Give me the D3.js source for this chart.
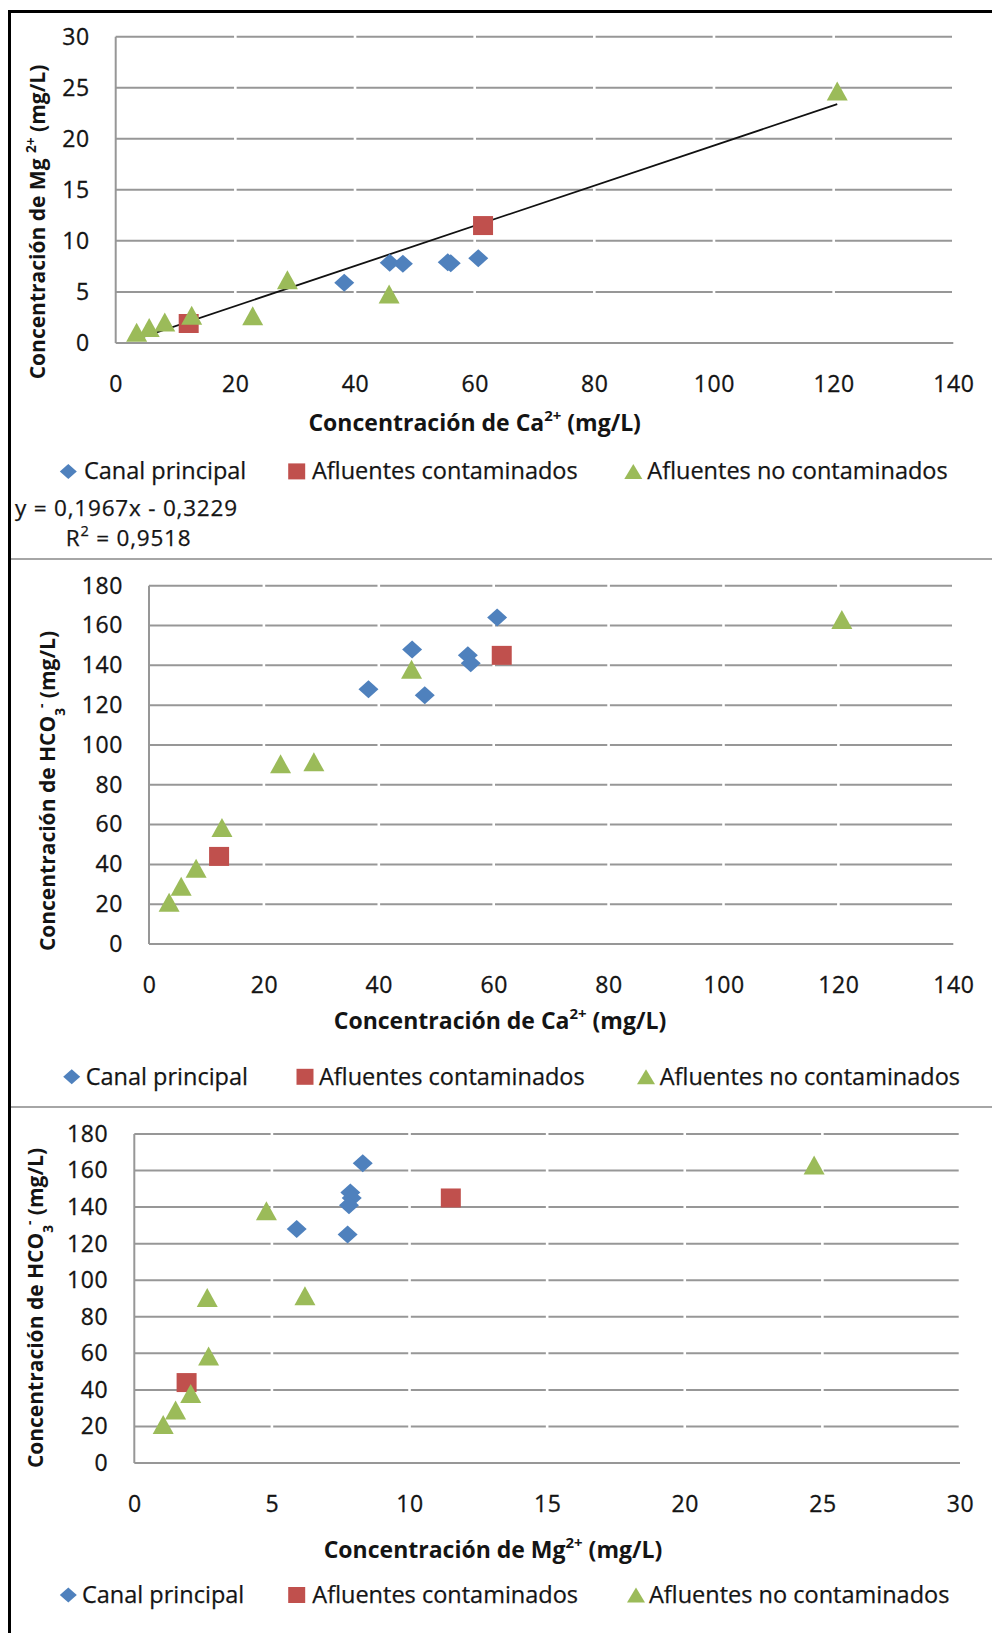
<!DOCTYPE html>
<html>
<head>
<meta charset="utf-8">
<script src="https://cdn.jsdelivr.net/npm/d3@7"></script>
<style>
	body { margin: 0; background: #fff; }
	svg { display: block; }
	text { font-family: "Open Sans", "DejaVu Sans", sans-serif; fill: #141414; }
	.tick-label { font-size: 23px; letter-spacing: 0.6px; stroke: #141414; stroke-width: 0.3px; }
	.axis-title { font-weight: bold; }
	.legend-label { font-size: 23.5px; stroke: #141414; stroke-width: 0.25px; }
	.equation { font-size: 22.5px; letter-spacing: 0.8px; stroke: #141414; stroke-width: 0.25px; }
</style>
</head>
<body>
<script>
// series names (legend order)
var seriesNames = ["Canal principal", "Afluentes contaminados", "Afluentes no contaminados"];

// Canal principal
var canalCa   = [38.2, 45.8, 48.0, 55.5, 56.0, 60.6];
var canalMg   = [5.9, 7.85, 7.75, 7.9, 7.8, 8.3];
var canalHCO3 = [128, 148, 125, 145, 141, 164];

// Afluentes contaminados
var contCa   = [12.2, 61.4];
var contMg   = [1.9, 11.5];
var contHCO3 = [44, 145];

// Afluentes no contaminados
var noContCa   = [3.5, 5.6, 8.2, 12.7, 22.9, 28.7, 45.7, 120.6];
var noContMg   = [1.05, 1.5, 2.05, 2.7, 2.65, 6.2, 4.8, 24.7];
var noContHCO3 = [21, 29, 38, 58.5, 90.5, 91.5, 138, 163];

// linear trend of Mg vs Ca (first chart)
var trendSlope = 0.1967;
var trendIntercept = -0.3229;
var trendR2 = 0.9518;

// axis ticks
var caTicks   = [0, 20, 40, 60, 80, 100, 120, 140];
var mgTicks   = [0, 5, 10, 15, 20, 25, 30];
var hco3Ticks = [0, 20, 40, 60, 80, 100, 120, 140, 160, 180];

var COLORS = ["#4F81BD", "#C0504D", "#9BBB59"];
var SHAPES = ["diamond", "square", "triangle"];

var svg = d3.select("body").append("svg")
	.attr("width", 992)
	.attr("height", 1633);

// outer frame: thick black top + left edge, grey separators between charts
svg.append("rect").attr("x", 8).attr("y", 10).attr("width", 984).attr("height", 3).attr("fill", "#000");
svg.append("rect").attr("x", 8).attr("y", 10).attr("width", 3).attr("height", 1623).attr("fill", "#000");
[558, 1106].forEach(function(y){
	svg.append("rect").attr("x", 11).attr("y", y).attr("width", 981).attr("height", 2).attr("fill", "#a6a6a6");
});

function markerPath(shape, w, h){
	var a = w/2, b = h/2;
	if (shape == "diamond") return "M0," + (-b) + "L" + a + ",0L0," + b + "L" + (-a) + ",0Z";
	if (shape == "square") return "M" + (-a) + "," + (-b) + "h" + w + "v" + h + "h" + (-w) + "Z";
	return "M0," + (-b) + "L" + a + "," + b + "L" + (-a) + "," + b + "Z";
}
var MARK_SIZE = {diamond: [20, 18], square: [20, 19], triangle: [21, 19]};
var LEG_SIZE  = {diamond: [17, 15], square: [17, 16], triangle: [18, 15]};

function zip(xs, ys){
	return xs.map(function(x, i){ return {x: x, y: ys[i]}; });
}

// text parts: [string, "sup"|"sub"|undefined]
function addPart(textSel, p){
	var t = textSel.append("tspan").text(p[0]);
	if (p[1] == "sup") t.attr("baseline-shift", "super").style("font-size", "65%");
	if (p[1] == "sub") t.attr("baseline-shift", "sub").style("font-size", "65%");
}

function drawChart(cfg){
	var g = svg.append("g");
	var x = d3.scaleLinear().domain([cfg.xTicks[0], cfg.xTicks[cfg.xTicks.length-1]]).range([cfg.left, cfg.right]);
	var y = d3.scaleLinear().domain([cfg.yTicks[0], cfg.yTicks[cfg.yTicks.length-1]]).range([cfg.bottom, cfg.top]);

	// horizontal gridlines, broken slightly at each x tick like the original
	var grid = g.append("g");
	cfg.yTicks.slice(1).forEach(function(t){
		for (var i = 0; i < cfg.xTicks.length-1; i++){
			grid.append("line")
				.attr("x1", x(cfg.xTicks[i]) + (i == 0 ? 0 : 1.3))
				.attr("x2", x(cfg.xTicks[i+1]) - 1.3)
				.attr("y1", y(t)).attr("y2", y(t))
				.attr("stroke", "#979797")
				.attr("stroke-width", 2);
		}
	});
	// axis lines
	g.append("line").attr("x1", x.range()[0]).attr("x2", x.range()[0])
		.attr("y1", y.range()[0]).attr("y2", y.range()[1])
		.attr("stroke", "#979797").attr("stroke-width", 2);
	g.append("line").attr("x1", x.range()[0]).attr("x2", x.range()[1])
		.attr("y1", y.range()[0]).attr("y2", y.range()[0])
		.attr("stroke", "#979797").attr("stroke-width", 2);

	// tick labels through d3 axes
	var yAxis = g.append("g")
		.attr("transform", "translate(" + cfg.left + ",0)")
		.call(d3.axisLeft(y).tickValues(cfg.yTicks).tickSize(0).tickPadding(26).tickFormat(d3.format("d")));
	var xAxis = g.append("g")
		.attr("transform", "translate(0," + cfg.bottom + ")")
		.call(d3.axisBottom(x).tickValues(cfg.xTicks).tickSize(0).tickPadding(33).tickFormat(d3.format("d")));
	[yAxis, xAxis].forEach(function(ax){
		ax.select(".domain").remove();
		ax.selectAll("text").attr("class", "tick-label").attr("fill", "#141414");
		ax.attr("font-family", null).attr("font-size", null);
	});

	// trendline (optional)
	if (cfg.trend){
		var ext = d3.extent(cfg.trend.xs);
		g.append("line")
			.attr("x1", x(ext[0])).attr("y1", y(cfg.trend.slope*ext[0] + cfg.trend.intercept))
			.attr("x2", x(ext[1])).attr("y2", y(cfg.trend.slope*ext[1] + cfg.trend.intercept))
			.attr("stroke", "#111")
			.attr("stroke-width", 1.8);
	}

	// points of each series
	cfg.series.forEach(function(pts, si){
		var shape = SHAPES[si];
		g.append("g").selectAll("path")
			.data(pts)
			.enter()
			.append("path")
			.attr("d", markerPath(shape, MARK_SIZE[shape][0], MARK_SIZE[shape][1]))
			.attr("fill", COLORS[si])
			.attr("transform", function(d){ return "translate(" + x(d.x) + "," + y(d.y) + ")"; });
	});

	// x title
	var xt = g.append("text")
		.attr("class", "axis-title")
		.attr("x", cfg.xTitlePos[0])
		.attr("y", cfg.xTitlePos[1] + 8)
		.attr("text-anchor", "middle")
		.style("font-size", "23px");
	cfg.xTitle.forEach(function(p){ addPart(xt, p); });

	// y title
	var yt = g.append("text")
		.attr("class", "axis-title")
		.attr("transform", "translate(" + (cfg.yTitlePos[0] + 8) + "," + cfg.yTitlePos[1] + ") rotate(-90)")
		.attr("text-anchor", "middle")
		.style("font-size", "21px");
	cfg.yTitle.forEach(function(p){ addPart(yt, p); });

	// legend
	var leg = g.append("g").attr("transform", "translate(0," + cfg.legendY + ")");
	cfg.legendX.forEach(function(pos, si){
		var shape = SHAPES[si];
		leg.append("path")
			.attr("d", markerPath(shape, LEG_SIZE[shape][0], LEG_SIZE[shape][1]))
			.attr("fill", COLORS[si])
			.attr("transform", "translate(" + pos[0] + ",0)");
		leg.append("text")
			.attr("class", "legend-label")
			.attr("x", pos[1])
			.attr("y", 8)
			.text(seriesNames[si]);
	});
	return g;
}

// chart 1: Mg vs Ca
drawChart({
	left: 115.7, right: 953.3, top: 36.8, bottom: 342.9,
	xTicks: caTicks, yTicks: mgTicks,
	series: [zip(canalCa, canalMg), zip(contCa, contMg), zip(noContCa, noContMg)],
	trend: {xs: canalCa.concat(contCa, noContCa), slope: trendSlope, intercept: trendIntercept},
	xTitle: [["Concentración de Ca"], ["2+", "sup"], [" (mg/L)"]],
	xTitlePos: [474.7, 422.5],
	yTitle: [["Concentración de Mg "], ["2+", "sup"], [" (mg/L)"]],
	yTitlePos: [37, 222],
	legendY: 471.4,
	legendX: [[68.3, 84], [296.7, 312], [633.3, 647.3]]
});

// regression equation
var fmt = function(v){ return String(v).replace(".", ","); };
svg.append("text").attr("class", "equation").attr("x", 15).attr("y", 515.5)
	.text("y = " + fmt(trendSlope) + "x - " + fmt(Math.abs(trendIntercept)));
var r2 = svg.append("text").attr("class", "equation").attr("x", 65.7).attr("y", 545.5);
addPart(r2, ["R"]); addPart(r2, ["2", "sup"]); addPart(r2, [" = " + fmt(trendR2)]);

// chart 2: HCO3 vs Ca
drawChart({
	left: 149, right: 953.3, top: 585.7, bottom: 944,
	xTicks: caTicks, yTicks: hco3Ticks,
	series: [zip(canalCa, canalHCO3), zip(contCa, contHCO3), zip(noContCa, noContHCO3)],
	xTitle: [["Concentración de Ca"], ["2+", "sup"], [" (mg/L)"]],
	xTitlePos: [500, 1021.4],
	yTitle: [["Concentración de HCO"], ["3", "sub"], ["-", "sup"], [" (mg/L)"]],
	yTitlePos: [46.7, 791],
	legendY: 1076.8,
	legendX: [[71.7, 85.7], [305, 319], [646, 659.7]]
});

// chart 3: HCO3 vs Mg
drawChart({
	left: 134.3, right: 960, top: 1134, bottom: 1463,
	xTicks: mgTicks, yTicks: hco3Ticks,
	series: [zip(canalMg, canalHCO3), zip(contMg, contHCO3), zip(noContMg, noContHCO3)],
	xTitle: [["Concentración de Mg"], ["2+", "sup"], [" (mg/L)"]],
	xTitlePos: [493, 1549.7],
	yTitle: [["Concentración de HCO"], ["3", "sub"], ["-", "sup"], [" (mg/L)"]],
	yTitlePos: [35, 1308],
	legendY: 1595,
	legendX: [[68.3, 82], [296.7, 312.3], [636, 649]]
});
</script>
</body>
</html>
